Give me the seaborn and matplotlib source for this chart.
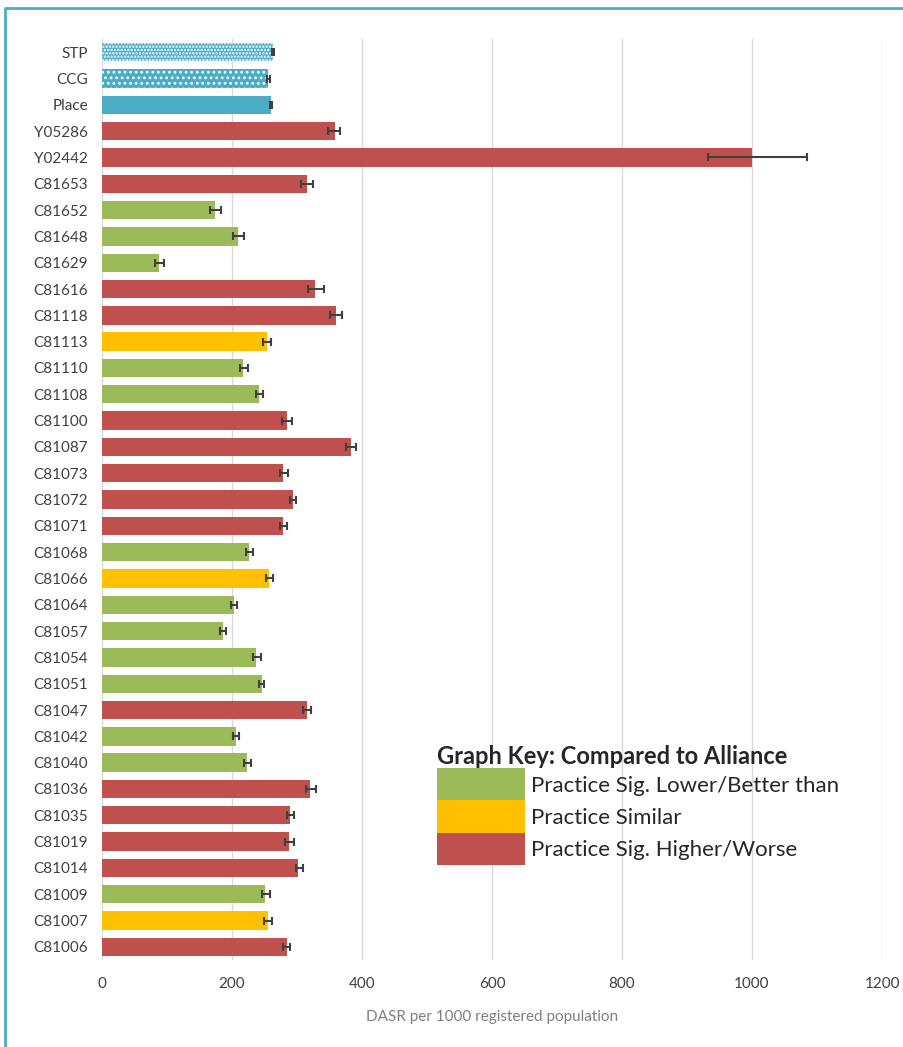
import matplotlib
matplotlib.use('Agg')
import matplotlib.pyplot as plt
import seaborn as sns
from matplotlib.patches import Patch
from matplotlib.lines import Line2D

# practices, top to bottom
labels = ['STP', 'CCG', 'Place', 'Y05286', 'Y02442', 'C81653', 'C81652',
          'C81648', 'C81629', 'C81616', 'C81118', 'C81113', 'C81110',
          'C81108', 'C81100', 'C81087', 'C81073', 'C81072', 'C81071',
          'C81068', 'C81066', 'C81064', 'C81057', 'C81054', 'C81051',
          'C81047', 'C81042', 'C81040', 'C81036', 'C81035', 'C81019',
          'C81014', 'C81009', 'C81007', 'C81006']
values = [263, 256, 260, 358, 1000, 315, 174, 209, 87, 328, 360, 254, 217,
          242, 284, 383, 279, 294, 278, 226, 257, 203, 186, 237, 246,
          315, 206, 223, 320, 290, 288, 302, 251, 255, 284]
lower = [261, 254, 258, 348, 932, 306, 166, 201, 81, 317, 351, 247, 213,
         237, 277, 376, 274, 289, 274, 222, 253, 199, 181, 232, 241,
         309, 201, 218, 314, 284, 282, 298, 246, 250, 278]
upper = [265, 258, 262, 366, 1085, 325, 183, 218, 95, 342, 370, 260, 224,
         247, 293, 391, 286, 299, 284, 232, 263, 208, 191, 244, 250,
         321, 211, 229, 330, 296, 296, 309, 258, 261, 290]
# comparison group per practice
groups = ['area', 'area', 'area', 'higher', 'higher', 'higher', 'lower',
          'lower', 'lower', 'higher', 'higher', 'similar', 'lower',
          'lower', 'higher', 'higher', 'higher', 'higher', 'higher',
          'lower', 'similar', 'lower', 'lower', 'lower', 'lower',
          'higher', 'lower', 'lower', 'higher', 'higher', 'higher',
          'higher', 'lower', 'similar', 'higher']

group_colors = {'area': '#4BACC6', 'lower': '#9BBB59',
                'similar': '#FFC000', 'higher': '#C0504D'}
key_labels = ['Practice Sig. Lower/Better than', 'Practice Similar',
              'Practice Sig. Higher/Worse']

sns.set_style('white')
plt.rcParams['font.family'] = ['Lato', 'DejaVu Sans']
plt.rcParams['hatch.linewidth'] = 1.2

fig = plt.figure(figsize=(9.04, 10.47), dpi=100)
ax = fig.add_axes([0.1128, 0.0831, 0.8629, 0.8796])

bar_colors = [group_colors[g] for g in groups]
sns.barplot(x=values, y=labels, hue=labels, palette=bar_colors,
            legend=False, width=0.7, ax=ax, saturation=1,
            edgecolor='none', linewidth=0)

# dotted pattern on the STP and CCG bars
for patch, hatch in zip(ax.patches[:2], ['.....', '...']):
    patch.set_hatch(hatch)
    patch.set_edgecolor('white')
    patch.set_linewidth(0)

xerr = [[v - lo for v, lo in zip(values, lower)],
        [up - v for v, up in zip(values, upper)]]
ax.errorbar(values, range(len(labels)), xerr=xerr, fmt='none',
            ecolor='#404040', elinewidth=1.5, capsize=3, capthick=1.5,
            zorder=3)

ax.set_xlim(0, 1200)
ax.set_ylim(len(labels) - 0.5, -0.5)
ax.set_xticks(range(0, 1201, 200))
ax.grid(axis='x', color='#D9D9D9', linewidth=1)
ax.set_axisbelow(True)
for s in ax.spines.values():
    s.set_visible(False)
ax.tick_params(axis='both', length=0, labelsize=11, colors='#404040')
ax.tick_params(axis='x', pad=12, labelsize=11)
ax.tick_params(axis='y', pad=10)
ax.set_xlabel('DASR per 1000 registered population', fontsize=11,
              color='#7F7F7F', labelpad=14)

handles = [Patch(facecolor=group_colors[g], edgecolor='none')
           for g in ['lower', 'similar', 'higher']]
leg = ax.legend(handles, key_labels, title='Graph Key: Compared to Alliance',
                loc='upper left', bbox_to_anchor=(0.415, 0.245),
                frameon=False, fontsize=16, handlelength=3.96,
                handleheight=1.84, labelspacing=0, handletextpad=0.3,
                borderpad=0, alignment='left')
leg.get_title().set_fontsize(17)
leg.get_title().set_fontweight('bold')

# teal frame line along the top and left edges
fig.add_artist(Line2D([0.006, 0.006, 1.0], [0.0, 0.992, 0.992],
                      transform=fig.transFigure, color='#4BACC6',
                      linewidth=2))

fig.savefig('out.png', dpi=100)
